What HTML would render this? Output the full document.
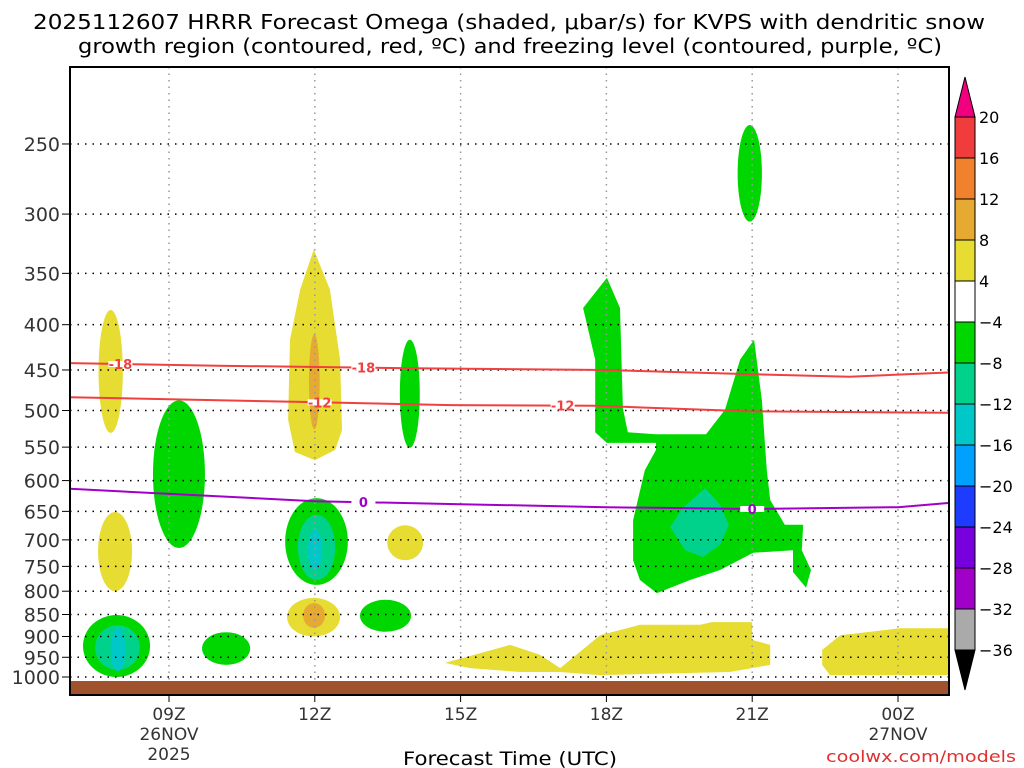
<!DOCTYPE html>
<html><head><meta charset="utf-8">
<style>
body{margin:0;background:#fff;}
svg{display:block;font-family:"DejaVu Sans","Liberation Sans",sans-serif;}
</style></head>
<body>
<svg id="chart" width="1024" height="768" viewBox="0 0 1024 768" xmlns="http://www.w3.org/2000/svg">
<text x="33" y="29" font-size="20" textLength="952" lengthAdjust="spacingAndGlyphs" fill="#000">2025112607 HRRR Forecast Omega (shaded, μbar/s) for KVPS with dendritic snow</text>
<text x="78" y="53" font-size="20" textLength="864" lengthAdjust="spacingAndGlyphs" fill="#000">growth region (contoured, red, ºC) and freezing level (contoured, purple, ºC)</text>
<g id="fills"></g>
<g id="grid"></g>
<g id="lines"></g>
<rect x="70" y="681" width="879" height="14" fill="#a0522d"/>
<rect x="70" y="67" width="879" height="628" fill="none" stroke="#000" stroke-width="2"/>
<g id="axes"></g>
<g id="cbar"></g>
<text x="403" y="765" font-size="19" textLength="214" lengthAdjust="spacingAndGlyphs" fill="#000">Forecast Time (UTC)</text>
<text x="826" y="762" font-size="16" textLength="190" lengthAdjust="spacingAndGlyphs" fill="#e03030">coolwx.com/models</text>
</svg>
<script>
// ticks
const pTicks=[250,300,350,400,450,500,550,600,650,700,750,800,850,900,950,1000];
const hourTicks=[0,3,6,9,12,15];
const hourLabels=[["09Z","26NOV","2025"],["12Z"],["15Z"],["18Z"],["21Z"],["00Z","27NOV"]];
// colorbar
const cbLabels=[20,16,12,8,4,-4,-8,-12,-16,-20,-24,-28,-32,-36];
const cbColors=["#f03c3c","#f0822d","#e6aa32","#e6dc32","#ffffff","#00d700","#00d28c","#00c8c8","#00a0ff","#1e3cff","#7800dc","#a000c8","#aaaaaa"];
// omega ellipses: h0,h1 (hours since 09Z), pTop,pBot, color
const ellipses=[
[-1.45,-0.95,385,530,"#e6dc32"],
[-1.46,-0.76,651,800,"#e6dc32"],
[-0.33,0.74,487,715,"#00d700"],
[-1.77,-0.39,851,1000,"#00d700"],
[-1.52,-0.6,874,982,"#00d28c"],
[-1.2,-0.9,880,985,"#00c8c8"],
[0.68,1.67,890,969,"#00d700"],
[2.88,3.1,410,525,"#e6aa32"],
[2.39,3.68,628,787,"#00d700"],
[2.65,3.42,656,777,"#00d28c"],
[2.86,3.15,682,757,"#00c8c8"],
[2.43,3.52,814,900,"#e6dc32"],
[2.76,3.21,825,880,"#e6aa32"],
[4.75,5.16,416,551,"#00d700"],
[4.49,5.23,674,738,"#e6dc32"],
[3.93,4.98,818,889,"#00d700"],
[11.7,12.2,238,306,"#00d700"]
];
const yellow12=[[2.98,329],[3.31,365],[3.52,438],[3.56,526],[3.42,554],[3.0,569],[2.59,557],[2.45,512],[2.49,416],[2.70,365]];
const bigGreen=[[8.52,383],[9.01,354],[9.28,383],[9.34,497],[9.44,529],[10.0,532],[11.05,532],[11.44,499],[11.75,438],[12.04,416],[12.20,487],[12.30,584],[12.37,631],[12.67,673],[13.05,673],[13.02,719],[13.21,757],[13.11,793],[12.84,761],[12.84,719],[12.02,724],[11.34,757],[10.72,777],[10.04,804],[9.69,777],[9.55,738],[9.55,665],[9.79,584],[10.02,554],[10.02,544],[9.01,544],[8.77,529],[8.77,438]];
const tealPoly=[[11.03,612],[11.34,639],[11.52,673],[11.34,709],[10.99,732],[10.62,719],[10.31,677],[10.58,643]];
const yellowStrip=[[5.68,964],[7.02,920],[7.63,944],[8.05,977],[8.87,897],[9.69,873],[10.93,873],[11.17,867],[12.0,867],[12.0,908],[12.37,920],[12.37,969],[11.54,987],[8.87,995],[8.05,987],[7.22,987],[6.19,977]];
const yellowRight=[[13.44,932],[13.81,897],[15.04,881],[16.03,881],[16.03,995],[13.6,995],[13.44,969]];
// contours: [hour, pressure]
const c18=[[-2.04,442],[1,445],[5,448],[9,450],[12,455],[14,458],[16.03,453]];
const c12=[[-2.04,483],[2.7,489],[5.8,493],[8.8,494],[11.9,501],[16.03,503]];
const c0=[[-2.04,613],[3,633],[6,638],[9,643],[12,646],[15,643],[16.03,636]];
const c18Labels=[[-1.0,"-18"],[4.0,"-18"]];
const c12Labels=[[3.1,"-12"],[8.1,"-12"]];
const c0Labels=[[4.0,"0"],[12.0,"0"]];

const NS="http://www.w3.org/2000/svg";
function X(h){return 169+h*48.6;}
function Y(p){return 677-384.5*Math.log(1000/p);}
function mk(tag,attrs,parent){const e=document.createElementNS(NS,tag);for(const k in attrs)e.setAttribute(k,attrs[k]);parent.appendChild(e);return e;}
const fills=document.getElementById('fills'),grid=document.getElementById('grid'),lines=document.getElementById('lines'),axes=document.getElementById('axes'),cbar=document.getElementById('cbar');
function poly(pts,color,name){
  const e=mk('polygon',{points:pts.map(q=>X(q[0]).toFixed(1)+","+Y(q[1]).toFixed(1)).join(" "),fill:color},fills);
  
  
}
poly(yellowStrip,"#e6dc32","omega-yellow-strip");
poly(yellowRight,"#e6dc32","omega-yellow-right");
poly(yellow12,"#e6dc32","omega-yellow-12z");
poly(bigGreen,"#00d700","omega-green-18z");
poly(tealPoly,"#00d28c","omega-teal-20z");
ellipses.forEach(d=>{
  const x0=X(d[0]),x1=X(d[1]),y0=Y(d[2]),y1=Y(d[3]);
  const e=mk('ellipse',{cx:(x0+x1)/2,cy:(y0+y1)/2,rx:(x1-x0)/2,ry:(y1-y0)/2,fill:d[4]},fills);
  
  
});
// grid
pTicks.forEach(p=>{
  const y=Y(p);
  const l=mk('line',{x1:70,x2:949,y1:y,y2:y,stroke:"#000","stroke-width":1.5,"stroke-dasharray":"1.5 6"},grid);
  
  
  const t=mk('line',{x1:62,x2:70,y1:y,y2:y,stroke:"#000","stroke-width":1},axes);
  
  
  const tx=mk('text',{x:60,y:y+7,"font-size":19,"text-anchor":"end",fill:"#333"},axes);
  tx.textContent=p;
  
  
});
hourTicks.forEach((h,i)=>{
  const x=X(h);
  const l=mk('line',{x1:x,x2:x,y1:67,y2:695,stroke:"#999","stroke-width":1.5,"stroke-dasharray":"1.5 5"},grid);
  
  
  const t=mk('line',{x1:x,x2:x,y1:695,y2:702,stroke:"#000"},axes);
  
  
  hourLabels[i].forEach((s,j)=>{
    const tx=mk('text',{x:x,y:720+j*20,"font-size":17,"text-anchor":"middle",fill:"#333"},axes);
    tx.textContent=s;
    
    
  });
});
function interp(arr,h){for(let i=0;i<arr.length-1;i++){if(h>=arr[i][0]&&h<=arr[i+1][0]){const f=(h-arr[i][0])/(arr[i+1][0]-arr[i][0]);return arr[i][1]+f*(arr[i+1][1]-arr[i][1]);}}return arr[arr.length-1][1];}
function contour(arr,labels,color,name){
  const e=mk('polyline',{points:arr.map(q=>X(q[0]).toFixed(1)+","+Y(q[1]).toFixed(1)).join(" "),fill:"none",stroke:color,"stroke-width":2},lines);
  
  
  labels.forEach(lb=>{
    const x=X(lb[0]),y=Y(interp(arr,lb[0]));
    const r=mk('rect',{x:x-12,y:y-3,width:24,height:6,fill:"#fff"},lines);
    
    
    const t=mk('text',{x:x,y:y+5,"font-size":13,"font-weight":"bold","text-anchor":"middle",fill:color},lines);
    t.textContent=lb[1];
    
    
  });
}
contour(c18,c18Labels,"#f04040","contour-minus18");
contour(c12,c12Labels,"#f04040","contour-minus12");
contour(c0,c0Labels,"#a000c8","contour-freezing");
// colorbar
const cbX=955,cbW=20,cbTop=117,seg=(650-117)/13;
cbColors.forEach((c,i)=>{
  const r=mk('rect',{x:cbX,y:cbTop+i*seg,width:cbW,height:seg,fill:c,stroke:"#000","stroke-width":1},cbar);
  
  
});
const up=mk('polygon',{points:`${cbX},${cbTop} ${cbX+cbW},${cbTop} ${cbX+cbW/2},77`,fill:"#f0007f",stroke:"#000"},cbar);


const dn=mk('polygon',{points:`${cbX},650 ${cbX+cbW},650 ${cbX+cbW/2},690`,fill:"#000",stroke:"#000"},cbar);


cbLabels.forEach((v,i)=>{
  const t=mk('text',{x:979,y:cbTop+i*seg+6,"font-size":16,fill:"#000"},cbar);
  t.textContent=v<0?"−"+(-v):v;
  
  
});
</script>
</body></html>
